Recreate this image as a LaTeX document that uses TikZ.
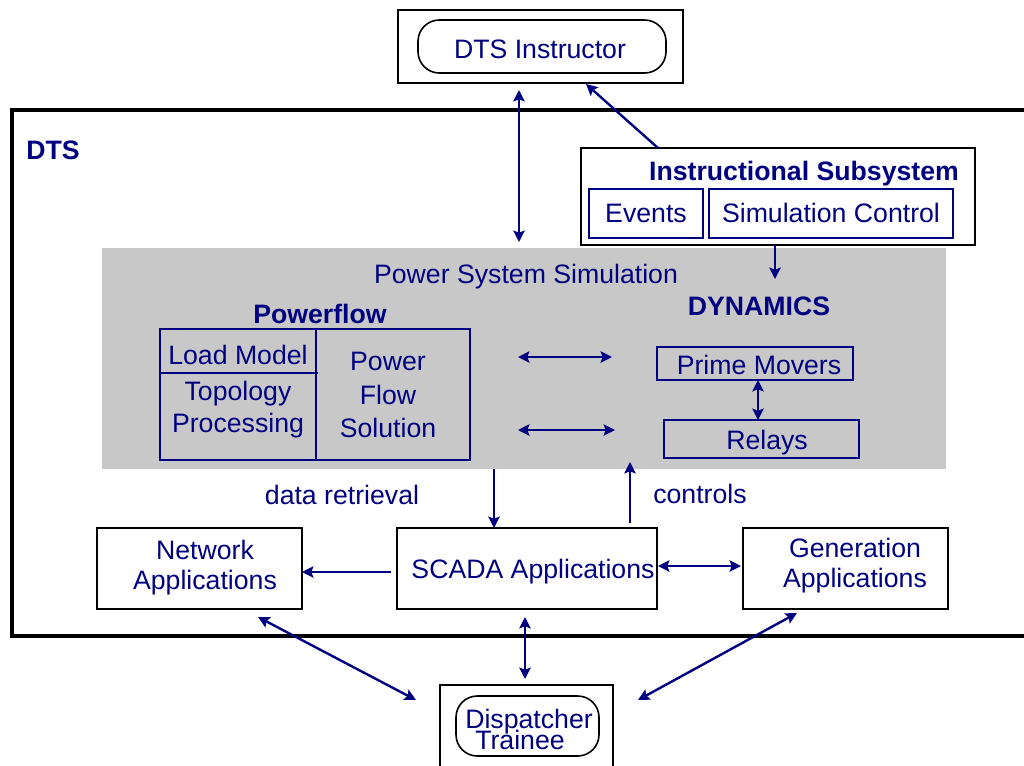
\documentclass[tikz,border=0pt]{standalone}
\usepackage{fontspec}
\setmainfont{Liberation Sans}
\usetikzlibrary{arrows.meta,fit,calc}
\definecolor{navy}{RGB}{0,0,128}
\definecolor{simgray}{RGB}{200,200,200}

\begin{document}
\begin{tikzpicture}[x=0.75pt,y=-0.75pt,
  every node/.style={font=\fontsize{20}{23}\selectfont, text=navy},
  blackbox/.style={draw=black, line width=1.5pt, inner sep=0pt},
  navybox/.style={draw=navy, line width=1.5pt, inner sep=0pt},
  roundbox/.style={draw=black, line width=1.2pt, rounded corners=16pt, inner sep=0pt},
  lbl/.style={inner sep=0pt, align=center},
  boldlbl/.style={inner sep=0pt, align=center, font=\fontsize{20}{23}\selectfont\bfseries},
  tip/.tip={Stealth[length=8.5pt,width=8.5pt,inset=1.5pt]},
  flow/.style={draw=navy, line width=1.8pt, -tip},
  biflow/.style={draw=navy, line width=1.8pt, tip-tip},
]
\useasboundingbox[fill=white] (0,0) rectangle (1024,765);

% outer DTS frame (open to the right)
\node[draw=black, line width=3pt, inner sep=0pt, fit={(12,110)(1060,636)}] (dts) {};
\node[boldlbl] (dtslbl) at (53,150) {DTS};

% instructor
\node[blackbox, fit={(398,10)(683,83)}] (instr) {};
\node[roundbox, fit={(418,20)(666,73)}] (instrin) {};
\node[lbl] (instrlbl) at (540,49) {DTS Instructor};

% instructional subsystem
\node[blackbox, fit={(581,148)(975,245)}] (iss) {};
\node[boldlbl] (isslbl) at (804,174) {Instructional Subsystem};
\node[navybox, fit={(589,189)(703,238)}] (events) {};
\node[lbl] at (646,213) {Events};
\node[navybox, fit={(709,189)(953,238)}] (simctl) {};
\node[lbl] at (831,213) {Simulation Control};

% power system simulation area
\node[fill=simgray, inner sep=0pt, fit={(102,248)(946,469)}] (sim) {};
\node[lbl] (simlbl) at (526,277) {Power System Simulation};
\node[boldlbl] (pflbl) at (320,314) {Powerflow};
\node[boldlbl] (dynlbl) at (759,306) {DYNAMICS};

\node[navybox, fit={(160,329)(470,460)}] (pf) {};
\coordinate (divtop) at (316,329);
\coordinate (divbot) at (316,460);
\coordinate (lmleft) at (160,373);
\coordinate (lmright) at (318,373);
\draw[navy, line width=1.5pt] (divtop) -- (divbot);
\draw[navy, line width=1.5pt] (lmleft) -- (lmright);
\node[lbl] (loadmodel) at (238,355) {Load Model};
\node[lbl, font=\fontsize{20}{24}\selectfont] (topo) at (238,410) {Topology\\Processing};
\node[lbl, font=\fontsize{20}{25}\selectfont] (pfsol) at (388,395) {Power\\Flow\\Solution};

\node[navybox, fit={(657,347)(853,380)}] (prime) {};
\node[lbl] at (759,365) {Prime Movers};
\node[navybox, fit={(664,420)(859,458)}] (relays) {};
\node[lbl] at (767,443) {Relays};

% applications
\node[blackbox, fit={(97,528)(302,609)}] (net) {};
\node[lbl, font=\fontsize{20}{22.5}\selectfont] at (205,568) {Network\\Applications};
\node[blackbox, fit={(397,528)(657,609)}] (scada) {};
\node[lbl] at (533,572) {SCADA Applications};
\node[blackbox, fit={(743,528)(948,609)}] (gen) {};
\node[lbl, font=\fontsize{20}{22.5}\selectfont] at (855,566) {Generation\\Applications};

\node[lbl] (datalbl) at (342,495) {data retrieval};
\node[lbl] (ctrllbl) at (700,494) {controls};

% dispatcher trainee
\node[blackbox, fit={(440,685)(613,790)}] (disp) {};
\node[roundbox, fit={(456,696)(599,756)}] (dispin) {};
\node[inner sep=0pt, anchor=base] (dispa) at (529,728) {Dispatcher};
\node[inner sep=0pt, anchor=base] (dispb) at (520,749) {Trainee};

% connector end points
\coordinate (a1) at (519,90);
\coordinate (a2) at (519,242);
\coordinate (b1) at (658,148);
\coordinate (b2) at (586,84);
\coordinate (c1) at (775,245);
\coordinate (c2) at (775,279);
\coordinate (d1) at (518,357);
\coordinate (d2) at (612,357);
\coordinate (e1) at (518,430);
\coordinate (e2) at (615,430);
\coordinate (f1) at (758,380);
\coordinate (f2) at (758,420);
\coordinate (g1) at (494,469);
\coordinate (g2) at (494,528);
\coordinate (h1) at (630,523);
\coordinate (h2) at (630,462);
\coordinate (i1) at (391,572);
\coordinate (i2) at (302,572);
\coordinate (j1) at (658,566);
\coordinate (j2) at (741,566);
\coordinate (k1) at (258,617);
\coordinate (k2) at (416,700);
\coordinate (l1) at (525,617);
\coordinate (l2) at (525,679);
\coordinate (m1) at (797,613);
\coordinate (m2) at (638,700);

\draw[biflow] (a1) -- (a2);
\draw[flow] (b1) -- (b2);
\draw[flow] (c1) -- (c2);
\draw[biflow] (d1) -- (d2);
\draw[biflow] (e1) -- (e2);
\draw[biflow] (f1) -- (f2);
\draw[flow] (g1) -- (g2);
\draw[flow] (h1) -- (h2);
\draw[flow] (i1) -- (i2);
\draw[biflow] (j1) -- (j2);
\draw[biflow] (k1) -- (k2);
\draw[biflow] (l1) -- (l2);
\draw[biflow] (m1) -- (m2);
\end{tikzpicture}
\end{document}
